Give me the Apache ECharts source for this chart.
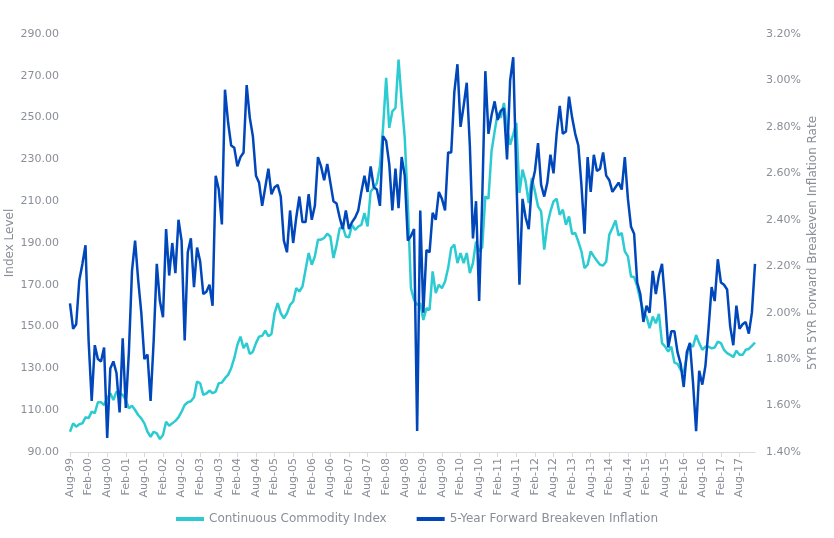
<!DOCTYPE html>
<html>
<head>
<meta charset="utf-8">
<script src="https://cdn.jsdelivr.net/npm/echarts@6/dist/echarts.min.js"></script>
<style>
  html, body { margin: 0; padding: 0; background: #fff; }
  #chart { width: 834px; height: 538px; }
</style>
</head>
<body>
<div id="chart"></div>
<script>
// monthly, Aug-99 .. Jan-18
const startYear = 1999;
const startMonth = 7; // 0-based, Aug
const monthNames = ['Jan', 'Feb', 'Mar', 'Apr', 'May', 'Jun', 'Jul', 'Aug', 'Sep', 'Oct', 'Nov', 'Dec'];

// Continuous Commodity Index (left axis)
const commodityIndex = [
  99.7, 103.7, 102.1, 103.3, 103.7, 106.6, 106.2, 109.3, 108.6, 113.8, 113.8, 112.5,
  115.7, 118.1, 114.9, 118.9, 118.1, 117.3, 114.9, 110.9, 112.2, 110.1, 107.7, 106.1,
  103.7, 99.7, 97.3, 99.7, 98.9, 96.2, 98.1, 104.5, 102.6, 103.7, 104.9, 106.6,
  109.3, 112.5, 113.8, 114.3, 116.2, 123.7, 122.9, 117.3, 118.0, 119.4, 118.1, 118.9,
  122.9, 123.2, 125.3, 126.9, 130.1, 134.9, 141.3, 145.2, 139.7, 142.1, 136.9, 138.0,
  142.1, 145.2, 145.6, 148.1, 145.4, 146.5, 156.4, 161.2, 156.4, 154.0, 156.4, 160.4,
  162.0, 168.4, 166.8, 169.2, 177.2, 185.2, 179.6, 183.6, 191.6, 191.6, 192.4, 194.4,
  193.1, 182.8, 189.0, 197.0, 197.9, 193.1, 192.7, 198.7, 196.3, 197.9, 198.7, 204.3,
  197.9, 214.7, 216.3, 218.7, 226.7, 245.1, 269.0, 245.1, 253.0, 254.6, 277.8, 257.8,
  240.3, 208.3, 168.4, 162.8, 160.4, 161.2, 153.2, 158.8, 158.0, 176.4, 166.0, 170.0,
  168.4, 171.6, 178.0, 187.6, 189.2, 180.4, 185.2, 180.4, 185.2, 175.6, 180.4, 190.7,
  186.0, 188.0, 212.3, 211.2, 233.9, 243.4, 252.2, 249.9, 257.0, 245.0, 237.0, 242.0,
  247.5, 213.9, 225.1, 219.5, 209.1, 221.1, 214.7, 207.5, 205.1, 186.8, 198.7, 205.1,
  209.9, 211.2, 203.5, 205.9, 198.7, 202.7, 194.3, 194.8, 190.7, 186.0, 178.0, 179.6,
  186.0, 183.6, 181.5, 179.6, 179.2, 181.2, 194.0, 197.2, 200.8, 193.6, 194.8, 186.0,
  183.6, 174.0, 173.7, 169.2, 162.8, 157.2, 154.8, 149.3, 154.8, 151.6, 156.1, 142.1,
  140.4, 138.0, 140.4, 132.8, 132.2, 129.3, 128.0, 135.7, 141.3, 140.4, 146.0, 142.1,
  138.9, 140.4, 140.4, 139.6, 140.0, 142.8, 142.1, 138.9, 137.3, 136.5, 135.4, 138.5,
  136.5, 136.5, 138.9, 139.3, 140.8, 142.4
];

// 5-Year Forward Breakeven Inflation, % (right axis)
const breakeven = [
  2.04, 1.93, 1.95, 2.14, 2.21, 2.29, 1.88, 1.62, 1.86, 1.80, 1.79, 1.85,
  1.46, 1.76, 1.79, 1.74, 1.57, 1.89, 1.59, 1.83, 2.18, 2.31, 2.14, 2.00,
  1.80, 1.82, 1.62, 1.88, 2.21, 2.05, 1.98, 2.36, 2.16, 2.30, 2.17, 2.40,
  2.31, 1.88, 2.26, 2.32, 2.11, 2.28, 2.22, 2.08, 2.09, 2.12, 2.03, 2.59,
  2.53, 2.38, 2.96, 2.82, 2.72, 2.71, 2.63, 2.67, 2.69, 2.98, 2.84, 2.76,
  2.59, 2.56, 2.46, 2.54, 2.62, 2.51, 2.54, 2.55, 2.50, 2.31, 2.26, 2.44,
  2.30, 2.41, 2.50, 2.39, 2.39, 2.51, 2.40, 2.46, 2.67, 2.63, 2.57, 2.64,
  2.56, 2.48, 2.47, 2.41, 2.36, 2.44, 2.36, 2.39, 2.41, 2.44, 2.52, 2.59,
  2.52, 2.63, 2.54, 2.53, 2.46, 2.76, 2.74, 2.64, 2.44, 2.62, 2.45, 2.67,
  2.59, 2.31, 2.33, 2.36, 1.49, 2.44, 2.00, 2.27, 2.26, 2.43, 2.40, 2.52,
  2.49, 2.44, 2.69, 2.69, 2.95, 3.07, 2.80, 2.89, 2.99, 2.72, 2.32, 2.48,
  2.05, 2.49, 3.04, 2.77, 2.85, 2.91, 2.83, 2.87, 2.88, 2.66, 3.00, 3.10,
  2.59, 2.12, 2.49, 2.41, 2.36, 2.55, 2.61, 2.73, 2.55, 2.50, 2.56, 2.68,
  2.60, 2.77, 2.89, 2.77, 2.78, 2.93, 2.84, 2.77, 2.72, 2.55, 2.34, 2.67,
  2.52, 2.68, 2.61, 2.62, 2.69, 2.59, 2.57, 2.52, 2.54, 2.56, 2.53, 2.67,
  2.49, 2.37, 2.34, 2.13, 2.08, 1.96, 2.03, 2.00, 2.18, 2.08, 2.16, 2.21,
  2.05, 1.85, 1.92, 1.92, 1.83, 1.78, 1.68, 1.83, 1.87, 1.70, 1.49, 1.75,
  1.69, 1.77, 1.93, 2.11, 2.05, 2.23, 2.13, 2.12, 2.10, 1.94, 1.86, 2.03,
  1.93, 1.95, 1.96, 1.91, 2.00, 2.21
];

const months = [];
for (let i = 0; i < commodityIndex.length; i++) {
  const m = (startMonth + i) % 12;
  const y = startYear + Math.floor((startMonth + i) / 12);
  months.push(monthNames[m] + '-' + String(y % 100).padStart(2, '0'));
}

const textColor = '#8a8e97';
const font = 'DejaVu Sans';

const myChart = echarts.init(document.getElementById('chart'));
const option = {
  backgroundColor: '#fff',
  animation: false,
  textStyle: { fontFamily: font, color: textColor },
  grid: { left: 70, right: 79, top: 34, bottom: 86, containLabel: false, outerBoundsMode: 'none' },
  legend: {
    bottom: 8,
    left: 'center',
    itemGap: 30,
    itemWidth: 28,
    itemHeight: 4,
    icon: 'rect',
    textStyle: { color: textColor, fontFamily: font, fontSize: 12 },
    data: ['Continuous Commodity Index', '5-Year Forward Breakeven Inflation']
  },
  xAxis: {
    type: 'category',
    data: months,
    boundaryGap: false,
    axisLine: { lineStyle: { color: '#d9d9d9' } },
    axisTick: { interval: 5, length: 5, lineStyle: { color: '#d9d9d9' } },
    axisLabel: { interval: 5, rotate: 90, color: textColor, fontFamily: font, fontSize: 11, margin: 6 },
    splitLine: { show: false }
  },
  yAxis: [
    {
      type: 'value',
      min: 90,
      max: 290,
      interval: 20,
      name: 'Index Level',
      nameLocation: 'middle',
      nameRotate: 90,
      nameGap: 54,
      nameMoveOverlap: false,
      nameTextStyle: { color: textColor, fontFamily: font, fontSize: 12 },
      axisLine: { show: false },
      axisTick: { show: false },
      splitLine: { show: false },
      axisLabel: { color: textColor, fontFamily: font, fontSize: 11, margin: 11,
        formatter: v => v.toFixed(2) }
    },
    {
      type: 'value',
      min: 1.4,
      max: 3.2,
      interval: 0.2,
      position: 'right',
      name: '5YR 5YR Forward Breakeven Inflation Rate',
      nameLocation: 'middle',
      nameRotate: 90,
      nameGap: 52,
      nameMoveOverlap: false,
      nameTextStyle: { color: textColor, fontFamily: font, fontSize: 12 },
      axisLine: { show: false },
      axisTick: { show: false },
      splitLine: { show: false },
      axisLabel: { color: textColor, fontFamily: font, fontSize: 11, margin: 11,
        formatter: v => v.toFixed(2) + '%' }
    }
  ],
  series: [
    {
      name: 'Continuous Commodity Index',
      type: 'line',
      yAxisIndex: 0,
      data: commodityIndex,
      symbol: 'none',
      itemStyle: { color: '#2ccbd1' },
      lineStyle: { color: '#2ccbd1', width: 2.5 }
    },
    {
      name: '5-Year Forward Breakeven Inflation',
      type: 'line',
      yAxisIndex: 1,
      data: breakeven,
      symbol: 'none',
      itemStyle: { color: '#0047bb' },
      lineStyle: { color: '#0047bb', width: 2.5 }
    }
  ]
};
myChart.setOption(option);
</script>
</body>
</html>
